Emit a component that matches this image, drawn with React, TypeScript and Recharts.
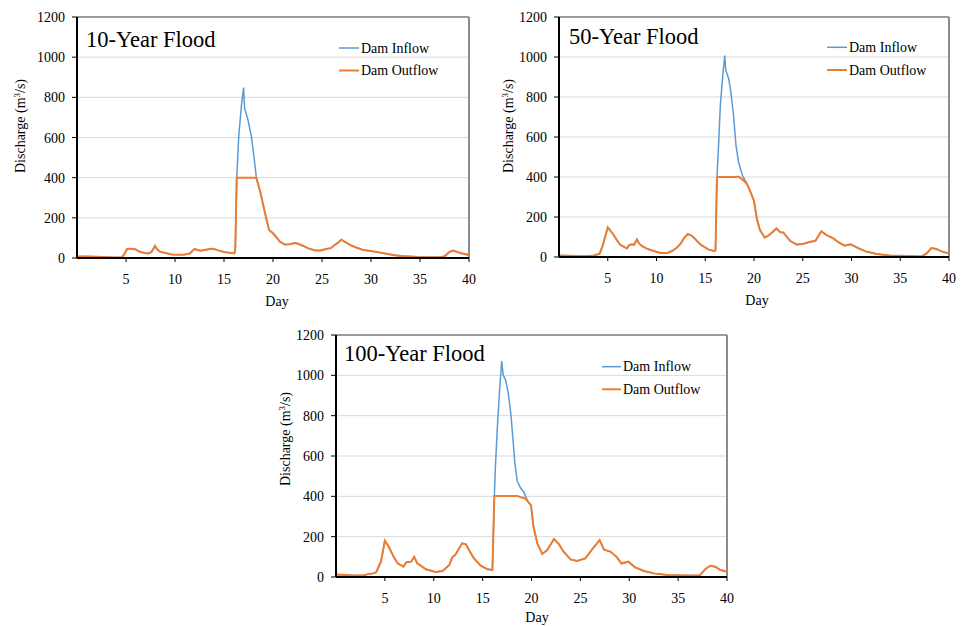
import React from "react";
import { LineChart, Line, XAxis, YAxis, CartesianGrid, ReferenceLine } from "recharts";

// ---------- Data ----------
const xTicks = [5, 10, 15, 20, 25, 30, 35, 40];
const yTicks = [0, 200, 400, 600, 800, 1000, 1200];

// 10-Year Flood
const days10 = [0, 1, 2, 3, 4, 4.6, 4.9, 5.1, 5.6, 6.0, 6.4, 6.9, 7.3, 7.6, 7.96, 8.2, 8.5, 9.0, 9.7, 10.5, 11.0, 11.5, 12.0, 12.3, 12.6, 13.0, 13.7, 14.0, 14.4, 15.0, 15.4, 16.05, 16.15, 16.3, 16.5, 16.8, 17.0, 17.1, 17.45, 17.8, 18.1, 18.3, 18.7, 19.0, 19.35, 19.6, 20.0, 20.4, 20.7, 21.2, 21.7, 22.2, 22.5, 23.1, 23.6, 24.3, 24.9, 25.4, 25.9, 26.3, 26.6, 26.97, 27.5, 28.0, 28.5, 29.2, 30.0, 30.8, 31.7, 32.4, 33.1, 34.0, 34.8, 36.0, 37.3, 37.6, 38.0, 38.4, 38.8, 39.2, 40];
const inflow10 = [8, 7, 6, 4, 2, 3, 25, 45, 46, 42, 31, 25, 22, 30, 60, 42, 31, 25, 18, 16, 17, 22, 45, 40, 36, 40, 46, 45, 38, 30, 27, 23, 40, 400, 604, 770, 849, 745, 687, 604, 488, 400, 330, 264, 189, 140, 123, 100, 81, 67, 68, 74, 72, 60, 48, 37, 37, 45, 49, 65, 75, 91, 75, 62, 52, 40, 35, 28, 20, 14, 10, 7, 5, 4, 5, 12, 30, 37, 30, 24, 15];
const outflow10 = [8, 7, 6, 4, 2, 3, 25, 45, 46, 42, 31, 25, 22, 30, 60, 42, 31, 25, 18, 16, 17, 22, 45, 40, 36, 40, 46, 45, 38, 30, 27, 23, 40, 400, 400, 400, 400, 400, 400, 400, 400, 400, 330, 264, 189, 140, 123, 100, 81, 67, 68, 74, 72, 60, 48, 37, 37, 45, 49, 65, 75, 91, 75, 62, 52, 40, 35, 28, 20, 14, 10, 7, 5, 4, 5, 12, 30, 37, 30, 24, 15];

// 50-Year Flood
const days50 = [0, 1, 2, 3, 3.6, 4.17, 4.5, 5.0, 5.3, 5.6, 6.0, 6.3, 6.97, 7.2, 7.4, 7.7, 8.0, 8.2, 8.5, 9.0, 9.4, 10.4, 11.1, 11.6, 12.1, 12.5, 12.8, 13.2, 13.6, 14.0, 14.5, 15.3, 15.9, 16.05, 16.2, 16.35, 16.55, 16.8, 17.0, 17.1, 17.4, 17.6, 17.9, 18.15, 18.4, 18.8, 19.25, 19.6, 20.0, 20.3, 20.6, 21.1, 21.6, 22.3, 22.7, 23.0, 23.7, 24.4, 25.1, 25.6, 26.3, 26.9, 27.5, 28.1, 28.6, 29.3, 29.9, 30.7, 31.5, 32.6, 33.9, 35.7, 37.2, 37.7, 38.2, 38.7, 39.3, 40];
const inflow50 = [7, 6, 5, 5, 8, 17, 60, 148, 130, 110, 80, 60, 43, 60, 63, 62, 88, 68, 55, 42, 35, 20, 20, 30, 47, 68, 93, 115, 107, 88, 63, 38, 30, 32, 398, 543, 760, 910, 1007, 935, 893, 835, 710, 560, 477, 410, 368, 330, 280, 190, 136, 97, 111, 143, 124, 123, 81, 62, 66, 74, 81, 128, 108, 94, 76, 57, 64, 44, 27, 15, 8, 5, 3, 18, 45, 40, 27, 18];
const outflow50 = [7, 6, 5, 5, 8, 17, 60, 148, 130, 110, 80, 60, 43, 60, 63, 62, 88, 68, 55, 42, 35, 20, 20, 30, 47, 68, 93, 115, 107, 88, 63, 38, 30, 32, 398, 400, 400, 400, 400, 400, 400, 400, 400, 400, 402, 388, 368, 330, 280, 190, 136, 97, 111, 143, 124, 123, 81, 62, 66, 74, 81, 128, 108, 94, 76, 57, 64, 44, 27, 15, 8, 5, 3, 18, 45, 40, 27, 18];

// 100-Year Flood
const days100 = [0, 1, 1.8, 2.8, 3.2, 3.8, 4.1, 4.6, 5.0, 5.4, 5.9, 6.3, 6.9, 7.2, 7.7, 8.0, 8.3, 8.7, 9.2, 10.2, 10.9, 11.6, 11.9, 12.2, 12.9, 13.3, 13.6, 14.1, 14.8, 15.5, 16.0, 16.2, 16.3, 16.5, 16.75, 16.95, 17.1, 17.35, 17.6, 17.9, 18.15, 18.3, 18.55, 18.9, 19.2, 19.4, 19.65, 19.95, 20.2, 20.6, 21.1, 21.6, 22.3, 22.8, 23.3, 24.0, 24.65, 25.5, 26.2, 26.97, 27.4, 28.1, 28.7, 29.2, 29.9, 30.6, 31.5, 32.5, 33.9, 35.6, 37.2, 37.8, 38.3, 38.8, 39.3, 40];
const inflow100 = [13, 10, 7, 8, 13, 18, 23, 76, 180, 150, 100, 68, 51, 73, 76, 100, 68, 55, 38, 25, 30, 60, 99, 109, 167, 162, 134, 93, 56, 38, 35, 402, 539, 737, 935, 1071, 1002, 977, 919, 803, 655, 564, 473, 440, 423, 400, 373, 356, 249, 166, 114, 133, 188, 163, 125, 87, 79, 92, 137, 183, 137, 125, 100, 67, 76, 48, 30, 18, 10, 7, 7, 40, 56, 51, 35, 26];
const outflow100 = [13, 10, 7, 8, 13, 18, 23, 76, 180, 150, 100, 68, 51, 73, 76, 100, 68, 55, 38, 25, 30, 60, 99, 109, 167, 162, 134, 93, 56, 38, 35, 402, 402, 402, 402, 402, 402, 402, 402, 402, 402, 402, 402, 395, 392, 388, 373, 356, 249, 166, 114, 133, 188, 163, 125, 87, 79, 92, 137, 183, 137, 125, 100, 67, 76, 48, 30, 18, 10, 7, 7, 40, 56, 51, 35, 26];

const titles = ["10-Year Flood", "50-Year Flood", "100-Year Flood"];
const seriesNames = ["Dam Inflow", "Dam Outflow"];

// ---------- Styles ----------
const FONT = "Liberation Serif";
const BLUE = "#5B9BD5";
const ORANGE = "#ED7D31";

const rows = (d: number[], inf: number[], out: number[]) =>
  d.map((day, i) => ({ day, inflow: inf[i], outflow: out[i] }));

const XTick = (props: any) => {
  const { x, y, payload } = props;
  return (
    <text x={x} y={y} dy={10} textAnchor="middle" fontFamily={FONT} fontSize={14} fill="#000">
      {payload.value}
    </text>
  );
};

const YTick = (props: any) => {
  const { x, y, payload } = props;
  return (
    <text x={x} y={y} dy={5} textAnchor="end" fontFamily={FONT} fontSize={14} fill="#000">
      {payload.value}
    </text>
  );
};

type PanelProps = {
  data: { day: number; inflow: number; outflow: number }[];
  left: number;
  top: number;
  width: number;
  height: number;
  yAxisWidth: number;
  margin: { top: number; right: number; bottom: number; left: number };
};

function Panel({ data, left, top, width, height, yAxisWidth, margin }: PanelProps) {
  return (
    <div style={{ position: "absolute", left, top, width, height }}>
      <LineChart width={width} height={height} data={data} margin={margin}>
        <CartesianGrid vertical={false} stroke="#d9d9d9" strokeWidth={1} />
        <XAxis
          type="number"
          dataKey="day"
          domain={[0, 40]}
          ticks={xTicks}
          tick={<XTick />}
          tickSize={4}
          tickMargin={12}
          height={30}
          axisLine={{ stroke: "#000", strokeWidth: 2 }}
          tickLine={{ stroke: "#000", strokeWidth: 1 }}
        />
        <YAxis
          type="number"
          domain={[0, 1200]}
          ticks={yTicks}
          tick={<YTick />}
          tickSize={5}
          tickMargin={7}
          width={yAxisWidth}
          axisLine={{ stroke: "#000", strokeWidth: 2 }}
          tickLine={{ stroke: "#000", strokeWidth: 1 }}
        />
        <ReferenceLine y={1200} stroke="#808080" strokeWidth={1.5} />
        <ReferenceLine x={40} stroke="#8c8c8c" strokeWidth={2} />
        <Line
          type="linear"
          dataKey="inflow"
          stroke={BLUE}
          strokeWidth={1.5}
          dot={false}
          isAnimationActive={false}
        />
        <Line
          type="linear"
          dataKey="outflow"
          stroke={ORANGE}
          strokeWidth={2}
          dot={false}
          isAnimationActive={false}
        />
      </LineChart>
    </div>
  );
}

type Deco = {
  titleX: number;
  titleY: number;
  legX1: number;
  legX2: number;
  legTextX: number;
  legY1: number;
  legY2: number;
  yLabX: number;
  yLabY: number;
  dayX: number;
  dayY: number;
};

const decos: Deco[] = [
  { titleX: 86, titleY: 47, legX1: 339, legX2: 359, legTextX: 361, legY1: 48, legY2: 70.5, yLabX: 25, yLabY: 126, dayX: 277, dayY: 306 },
  { titleX: 569, titleY: 44, legX1: 827, legX2: 847, legTextX: 849, legY1: 47.3, legY2: 70, yLabX: 512.5, yLabY: 126, dayX: 757, dayY: 305 },
  { titleX: 344, titleY: 361, legX1: 602, legX2: 621, legTextX: 623, legY1: 366.7, legY2: 389.3, yLabX: 290, yLabY: 439, dayX: 537, dayY: 621.5 },
];

export default function App() {
  return (
    <div style={{ position: "absolute", left: 0, top: 0, width: 961, height: 626, background: "#fff", overflow: "hidden", fontFamily: FONT }}>
      <Panel
        data={rows(days10, inflow10, outflow10)}
        left={0}
        top={0}
        width={480}
        height={315}
        yAxisWidth={77}
        margin={{ top: 17, right: 11, bottom: 27, left: 0 }}
      />
      <Panel
        data={rows(days50, inflow50, outflow50)}
        left={480}
        top={0}
        width={480}
        height={315}
        yAxisWidth={79}
        margin={{ top: 17, right: 11, bottom: 28, left: 0 }}
      />
      <Panel
        data={rows(days100, inflow100, outflow100)}
        left={256}
        top={318}
        width={480}
        height={308}
        yAxisWidth={80}
        margin={{ top: 17, right: 9, bottom: 19, left: 0 }}
      />
      <svg
        width={961}
        height={626}
        style={{ position: "absolute", left: 0, top: 0, pointerEvents: "none" }}
      >
        {decos.map((d, i) => (
          <g key={i} fontFamily={FONT} fill="#000">
            <text x={d.titleX} y={d.titleY} fontSize={22.5}>
              {titles[i]}
            </text>
            <line x1={d.legX1} x2={d.legX2} y1={d.legY1} y2={d.legY1} stroke={BLUE} strokeWidth={1.5} />
            <text x={d.legTextX} y={d.legY1 + 4.6} fontSize={14}>
              {seriesNames[0]}
            </text>
            <line x1={d.legX1} x2={d.legX2} y1={d.legY2} y2={d.legY2} stroke={ORANGE} strokeWidth={2} />
            <text x={d.legTextX} y={d.legY2 + 4.6} fontSize={14}>
              {seriesNames[1]}
            </text>
            <text
              x={d.yLabX}
              y={d.yLabY}
              fontSize={14}
              textAnchor="middle"
              transform={`rotate(-90 ${d.yLabX} ${d.yLabY})`}
            >
              Discharge (m<tspan baselineShift="super" fontSize={9}>3</tspan>/s)
            </text>
            <text x={d.dayX} y={d.dayY} fontSize={14} textAnchor="middle">
              Day
            </text>
          </g>
        ))}
      </svg>
    </div>
  );
}
